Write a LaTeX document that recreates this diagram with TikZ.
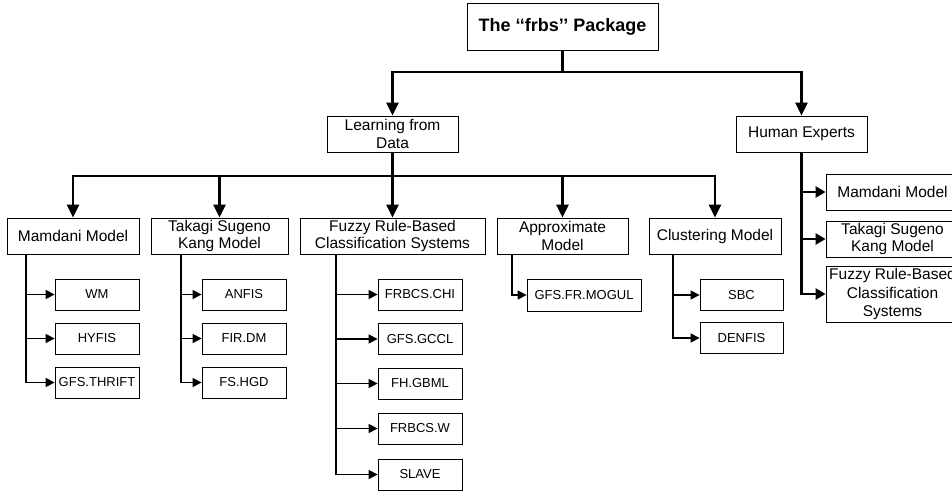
\documentclass[tikz,border=0pt]{standalone}
\usepackage{fontspec}
\setmainfont{Liberation Sans}
\usetikzlibrary{arrows.meta}

\tikzset{
  box/.style={draw, line width=0.8pt, inner sep=0pt, align=center,
    font=\fontsize{15.5}{17.5}\selectfont},
  mbox/.style={box, minimum height=36pt},
  leafbox/.style={box, minimum width=84pt, minimum height=31pt,
    font=\fontsize{13}{15}\selectfont},
  mainline/.style={line width=2.8pt},
  mainarrow/.style={line width=2.8pt, -{Triangle[length=13pt,width=12pt]}},
  subarrow/.style={line width=2.4pt, -{Triangle[length=10pt,width=11pt]}},
  leafarrow/.style={line width=1.3pt, -{Triangle[length=9pt,width=9pt]}},
}

\begin{document}
\begin{tikzpicture}[x=1pt,y=-1pt]
\useasboundingbox (0,0) rectangle (952,493);

% root
\node[box, minimum width=191pt, minimum height=47pt,
      font=\fontsize{18}{20}\selectfont\bfseries] (root) at (562.5,26.5)
  {The ‘{}‘frbs’{}’ Package};

% first level
\node[mbox, minimum width=131pt] (lfd) at (392.5,134) {Learning from\\Data};
\node[mbox, minimum width=131pt] (he) at (801.5,134) {Human Experts};

% second level (learning from data)
\node[mbox, minimum width=132pt] (mam) at (73,236) {Mamdani Model};
\node[mbox, minimum width=137pt] (tsk) at (219.5,236) {Takagi Sugeno\\Kang Model};
\node[mbox, minimum width=185pt] (frbcs) at (392.5,236) {Fuzzy Rule-Based\\Classification Systems};
\node[mbox, minimum width=131pt] (appr) at (562.5,236) {Approximate\\Model};
\node[mbox, minimum width=132pt] (clus) at (715,236) {Clustering Model};

% second level (human experts)
\node[mbox, minimum width=133pt] (hmam) at (892.5,192) {Mamdani Model};
\node[mbox, minimum width=133pt] (htsk) at (892.5,239) {Takagi Sugeno\\Kang Model};
\node[box, minimum width=133pt, minimum height=56pt,
      font=\fontsize{15.5}{18.5}\selectfont] (hfrbcs) at (892.5,294)
  {Fuzzy Rule-Based\\Classification\\Systems};

% leaves
\node[leafbox] (wm) at (97,294.5) {WM};
\node[leafbox] (hyfis) at (97,338.5) {HYFIS};
\node[leafbox] (thrift) at (97,382.5) {GFS.THRIFT};

\node[leafbox] (anfis) at (244,294.5) {ANFIS};
\node[leafbox] (firdm) at (244,338.5) {FIR.DM};
\node[leafbox] (fshgd) at (244,382.5) {FS.HGD};

\node[leafbox] (chi) at (420,294.5) {FRBCS.CHI};
\node[leafbox] (gccl) at (420,339) {GFS.GCCL};
\node[leafbox] (gbml) at (420,383.5) {FH.GBML};
\node[leafbox] (frw) at (420,428.5) {FRBCS.W};
\node[leafbox] (slave) at (420,474.5) {SLAVE};

\node[leafbox, minimum width=114pt, minimum height=32pt] (mogul) at (584,295) {GFS.FR.MOGUL};

\node[leafbox, minimum width=83pt] (sbc) at (741.5,295) {SBC};
\node[leafbox, minimum width=83pt] (denfis) at (741.5,338) {DENFIS};

% junctions of the thick branches
\coordinate (j1) at (562.5,72);
\coordinate (j2) at (392.5,176);

% root to first level
\draw[mainline] (root.south) -- (j1);
\draw[mainarrow] (j1) -| (lfd.north);
\draw[mainarrow] (j1) -| (he.north);

% learning from data to models
\draw[mainline] (lfd.south) -- (j2);
\foreach \n in {mam,tsk,frbcs,appr,clus}
  \draw[mainarrow] (j2) -| (\n.north);

% human experts to models
\foreach \n in {hmam,htsk,hfrbcs}
  \draw[subarrow] (he.south) |- (\n.west);

% models to algorithms
\foreach \n in {wm,hyfis,thrift}
  \draw[leafarrow] ([xshift=-47pt]mam.south) |- (\n.west);
\foreach \n in {anfis,firdm,fshgd}
  \draw[leafarrow] ([xshift=-38.5pt]tsk.south) |- (\n.west);
\foreach \n in {chi,gccl,gbml,frw,slave}
  \draw[leafarrow] ([xshift=-56.5pt]frbcs.south) |- (\n.west);
\draw[leafarrow] ([xshift=-50.5pt]appr.south) |- (mogul.west);
\foreach \n in {sbc,denfis}
  \draw[leafarrow] ([xshift=-42pt]clus.south) |- (\n.west);
\end{tikzpicture}
\end{document}
